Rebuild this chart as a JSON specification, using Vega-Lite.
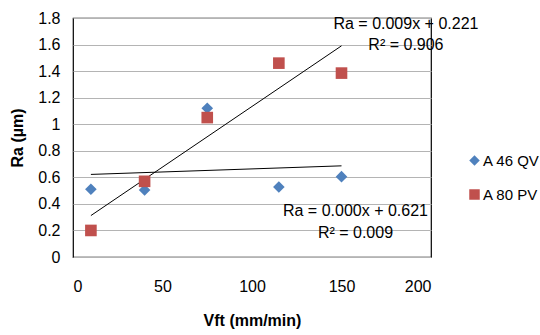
{
  "$schema": "https://vega.github.io/schema/vega-lite/v6.json",
  "autosize": "none",
  "padding": {"left": 73, "top": 18, "right": 109, "bottom": 78},
  "width": 358,
  "height": 239,
  "background": "white",
  "config": {
    "font": "Liberation Sans",
    "view": {"stroke": "black", "strokeWidth": 1.2},
    "axis": {"labelFont": "Liberation Sans", "titleFont": "Liberation Sans", "labelFontSize": 16, "titleFontSize": 16, "labelColor": "black", "titleColor": "black", "titleFontWeight": "bold", "ticks": false, "domain": false, "labelOverlap": false}
  },
  "datasets": {
    "pts": [
      {"vft": 10, "ra": 0.51, "series": "A 46 QV"},
      {"vft": 40, "ra": 0.505, "series": "A 46 QV"},
      {"vft": 75, "ra": 1.12, "series": "A 46 QV"},
      {"vft": 115, "ra": 0.527, "series": "A 46 QV"},
      {"vft": 150, "ra": 0.605, "series": "A 46 QV"},
      {"vft": 10, "ra": 0.2, "series": "A 80 PV"},
      {"vft": 40, "ra": 0.57, "series": "A 80 PV"},
      {"vft": 75, "ra": 1.05, "series": "A 80 PV"},
      {"vft": 115, "ra": 1.46, "series": "A 80 PV"},
      {"vft": 150, "ra": 1.385, "series": "A 80 PV"}
    ],
    "labels": [
      {"vft": 186, "ra": 1.758, "text": "Ra = 0.009x + 0.221"},
      {"vft": 186, "ra": 1.596, "text": "R² = 0.906"},
      {"vft": 157.8, "ra": 0.346, "text": "Ra = 0.000x + 0.621"},
      {"vft": 157.8, "ra": 0.181, "text": "R² = 0.009"}
    ]
  },
  "encoding": {
    "x": {"field": "vft", "type": "quantitative", "scale": {"domain": [0, 200]},
          "axis": {"values": [0, 50, 100, 150, 200], "grid": false, "labelPadding": 21, "title": "Vft (mm/min)", "titlePadding": 18}},
    "y": {"field": "ra", "type": "quantitative", "scale": {"domain": [0, 1.8]},
          "axis": {"values": [0, 0.2, 0.4, 0.6, 0.8, 1, 1.2, 1.4, 1.6, 1.8], "tickCount": 10, "format": "~g", "grid": true, "gridColor": "#b4b4b4", "gridWidth": 1.2, "labelPadding": 13, "title": "Ra (µm)", "titlePadding": 12}}
  },
  "layer": [
    {
      "data": {"name": "pts"},
      "transform": [{"regression": "ra", "on": "vft", "groupby": ["series"]}],
      "mark": {"type": "line", "color": "black", "strokeWidth": 1},
      "encoding": {
        "detail": {"field": "series"}
      }
    },
    {
      "data": {"name": "pts"},
      "mark": {"type": "point", "filled": true, "opacity": 1, "size": 135},
      "encoding": {
        "color": {"field": "series", "type": "nominal", "scale": {"domain": ["A 46 QV", "A 80 PV"], "range": ["#4F81BD", "#C0504D"]},
                  "legend": {"title": null, "orient": "none", "legendX": 394, "legendY": 135, "labelFontSize": 15, "labelFont": "Liberation Sans", "labelColor": "black", "symbolSize": 110, "labelOffset": 1, "rowPadding": 18, "symbolStrokeWidth": 0}},
        "shape": {"field": "series", "type": "nominal", "scale": {"domain": ["A 46 QV", "A 80 PV"], "range": ["diamond", "square"]}}
      }
    },
    {
      "data": {"name": "labels"},
      "mark": {"type": "text", "fontSize": 16, "font": "Liberation Sans", "color": "black", "align": "center", "baseline": "middle", "clip": false},
      "encoding": {
        "text": {"field": "text"}
      }
    }
  ]
}
